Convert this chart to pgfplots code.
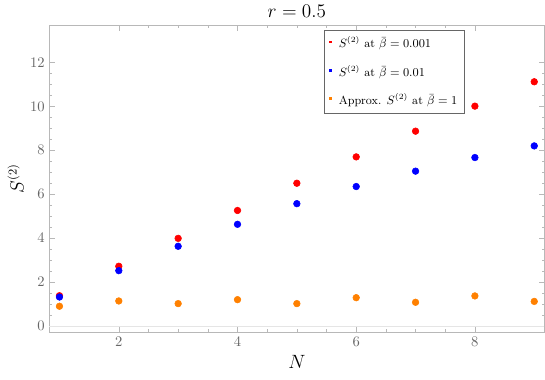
\documentclass[border=0pt]{standalone}
\usepackage{pgfplots}
\pgfplotsset{compat=1.18}
\definecolor{mred}{rgb}{1,0,0}
\definecolor{mblue}{rgb}{0,0,1}
\definecolor{morange}{rgb}{1,0.5,0}
\definecolor{framegray}{gray}{0.72}
\definecolor{labelgray}{gray}{0.4}

\begin{document}
\begin{tikzpicture}
\begin{axis}[
    scale only axis,
    width=371pt, height=229.5pt,
    xmin=0.83, xmax=9.17,
    ymin=-0.27, ymax=13.67,
    xtick={2,4,6,8}, ytick={0,2,4,6,8,10,12},
    minor x tick num=3, minor y tick num=3,
    tick align=inside,
    major tick length=4pt, minor tick length=2pt,
    axis line style={framegray},
    every tick/.style={framegray},
    tick label style={labelgray, font=\fontsize{10.5}{12}\selectfont},
    title={$r = 0.5$},
    title style={font=\fontsize{13.5}{15}\selectfont, yshift=-3pt},
    xlabel={$N$}, ylabel={$S^{(2)}$},
    label style={font=\fontsize{13.5}{15}\selectfont},
    ylabel style={yshift=-2pt},
    extra y ticks={0}, extra y tick labels={},
    extra y tick style={grid=major, major grid style={gray!20}, tick style={draw=none}},
    legend cell align=left,
    legend style={at={(0.838,0.987)}, anchor=north east, draw=gray!80!black,
        font=\fontsize{8.8}{11}\selectfont, row sep=7.5pt, inner sep=3pt},
    legend image code/.code={\fill (0.03cm,0.5pt) rectangle +(1.3pt,1.3pt);
        \path[draw=none, fill=none] (0,0) rectangle (0.2cm,0.1pt);},
    clip=false,
]
\addplot[only marks, mark=*, mark size=2.5pt, color=mred] coordinates {
 (1,1.38) (2,2.72) (3,3.99) (4,5.26) (5,6.50) (6,7.70) (7,8.87) (8,10.01) (9,11.12)};
\addlegendentry{$S^{(2)}$ at $\bar{\beta}=0.001$}
\addplot[only marks, mark=*, mark size=2.5pt, color=mblue] coordinates {
 (1,1.32) (2,2.52) (3,3.63) (4,4.63) (5,5.57) (6,6.35) (7,7.05) (8,7.67) (9,8.20)};
\addlegendentry{$S^{(2)}$ at $\bar{\beta}=0.01$}
\addplot[only marks, mark=*, mark size=2.5pt, color=morange] coordinates {
 (1,0.90) (2,1.14) (3,1.02) (4,1.20) (5,1.02) (6,1.29) (7,1.08) (8,1.37) (9,1.12)};
\addlegendentry{Approx. $S^{(2)}$ at $\bar{\beta}=1$}
\end{axis}
\pgfresetboundingbox
\path (current axis.south west) ++(-37pt,-35.5pt) coordinate (bbsw);
\path (current axis.north east) ++(0.5pt,19.3pt) coordinate (bbne);
\useasboundingbox (bbsw) rectangle (bbne);
\end{tikzpicture}
\end{document}
